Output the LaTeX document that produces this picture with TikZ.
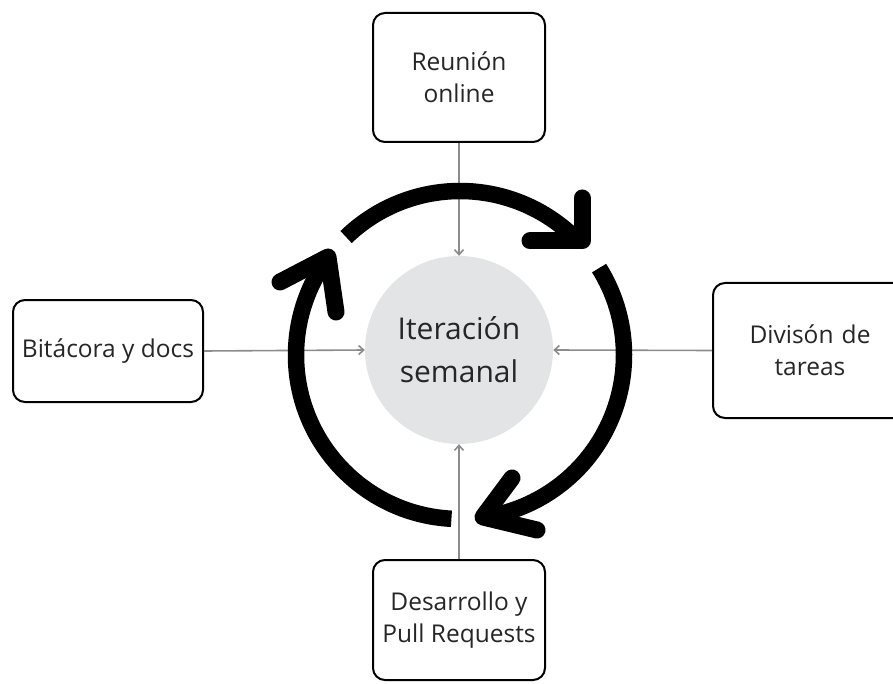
\documentclass[tikz,border=0pt]{standalone}
\usepackage{fontspec}
\setmainfont{Open Sans}
\usetikzlibrary{arrows.meta}
\definecolor{txt}{HTML}{262626}
\definecolor{hub}{HTML}{E2E4E5}
\definecolor{link}{HTML}{8C8C8C}
\tikzset{
  stagebox/.style={draw=black, line width=2pt, rounded corners=12pt, fill=white,
    align=center, text=txt, font=\fontsize{24.5}{32}\selectfont, inner sep=0pt},
  hubnode/.style={circle, fill=hub, minimum size=188pt, inner sep=0pt,
    align=center, text=txt, font=\fontsize{30}{43}\selectfont},
  feed/.style={draw=link, line width=1.6pt, -{Straight Barb[length=5pt,width=9pt,line width=1.6pt]}},
  cyclearc/.style={line width=16.5pt, line cap=butt},
  cyclehead/.style={line width=17pt, line cap=round, line join=round}
}
\begin{document}
\begin{tikzpicture}[x=1pt, y=-1pt]
  \useasboundingbox (0,0) rectangle (893,684);
  \clip (0,0) rectangle (893,684);

  % stages around the weekly iteration
  \node[stagebox, minimum width=172pt, minimum height=129pt] (meet) at (459,77.5) {Reunión\\online};
  \node[stagebox, minimum width=190pt, minimum height=102pt] (log) at (108,351) {Bitácora y docs};
  \node[stagebox, minimum width=194pt, minimum height=135pt, text width=194pt] (split) at (810,350.5) {Divisón de\\tareas};
  \node[stagebox, minimum width=172pt, minimum height=120pt] (dev) at (459,620) {Desarrollo y\\Pull Requests};

  % central hub
  \node[hubnode] (iter) at (459,350) {Iteración\\semanal};

  % feeds into the hub
  \draw[feed] (meet.south) -- (iter.north);
  \draw[feed] (log.east) -- (iter.west);
  \draw[feed] (split.west) -- (iter.east);
  \draw[feed] (dev.north) -- (iter.south);

  % clockwise cycle arrows
  \coordinate (ring) at (460,355);
  \draw[cyclearc] ([shift={(-134:164)}]ring) arc[start angle=-134, end angle=-43, radius=164];
  \draw[cyclehead] (530,241) -- (582,241) -- (582,198);

  \draw[cyclearc] ([shift={(-32:164)}]ring) arc[start angle=-32, end angle=82, radius=164];
  \draw[cyclehead] (512,478) -- (483,517) -- (537,530);

  \draw[cyclearc] ([shift={(93:164)}]ring) arc[start angle=93, end angle=216.6, radius=164];
  \draw[cyclehead] (280,282) -- (328,257) -- (336,312);
\end{tikzpicture}
\end{document}
